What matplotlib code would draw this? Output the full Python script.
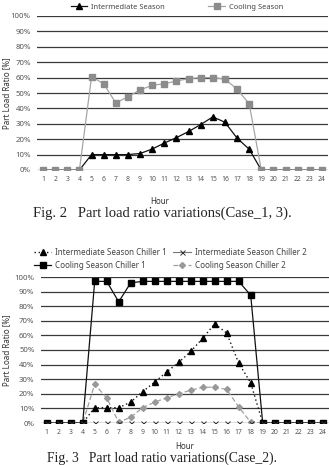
import matplotlib
matplotlib.use("Agg")
import matplotlib.pyplot as plt
import numpy as np

hours = list(range(1, 25))
yticks = [0, 10, 20, 30, 40, 50, 60, 70, 80, 90, 100]
ytick_labels = [f"{v}%" for v in yticks]

# Fig. 2 data
f2_intermediate = [0, 0, 0, 0, 10, 10, 10, 10, 10.7, 13.6, 17.5, 21, 25, 29.5, 34.5, 31, 20.7, 13.5,
                   0, 0, 0, 0, 0, 0]
f2_cooling = [0, 0, 0, 0, 60.6, 56, 43.5, 47.6, 52, 55, 56, 57.8, 59.3, 60, 60, 59, 52.5, 43,
              0, 0, 0, 0, 0, 0]

# Fig. 3 data
f3_int_ch1 = [0, 0, 0, 0, 10.5, 10.5, 10.5, 14.3, 21.5, 28, 35, 41.5, 49, 58, 68, 61.5, 41, 27.5,
              0, 0, 0, 0, 0, 0]
f3_int_ch2 = [0] * 24
f3_cool_ch1 = [0, 0, 0, 0, 97, 97, 83, 96, 97, 97, 97, 97, 97, 97, 97, 97, 97, 87.5,
               0, 0, 0, 0, 0, 0]
f3_cool_ch2 = [0, 0, 0, 0, 26.5, 17.2, 0.5, 4, 10.5, 14.3, 17.3, 20, 22.5, 24.5, 24.5, 23, 11, 0.5,
               0, 0, 0, 0, 0, 0]

W, H = 329, 465
fig = plt.figure(figsize=(W / 100, H / 100), dpi=100)
fig.patch.set_facecolor("white")

TICK_FONT = "Noto Sans"
TICK_COLOR = "#555555"
GRID_COLOR = "#3a3a3a"


def px_axes(left, top, right, bottom):
    return fig.add_axes([left / W, 1 - bottom / H, (right - left) / W, (bottom - top) / H])


def style_axes(ax):
    ax.set_xlim(0.5, 24.5)
    ax.set_ylim(0, 100)
    ax.set_yticks(yticks)
    ax.set_yticklabels(ytick_labels, fontsize=5.6, color=TICK_COLOR, family=TICK_FONT)
    ax.set_xticks(hours)
    ax.set_xticklabels([str(h) for h in hours], fontsize=4.9, color=TICK_COLOR, family=TICK_FONT)
    for s in ax.spines.values():
        s.set_visible(False)
    ax.yaxis.grid(True, color=GRID_COLOR, linewidth=0.9)
    ax.set_axisbelow(True)
    ax.tick_params(axis="y", length=0, pad=4.5)
    ax.tick_params(axis="x", length=0, pad=4)
    ax.set_xlabel("Hour", fontsize=5.8, fontweight="bold", color="#333333", family=TICK_FONT)
    ax.set_ylabel("Part Load Ratio [%]", fontsize=5.8, fontweight="bold", color="#333333",
                  family=TICK_FONT)


# ---------- Fig. 2 ----------
ax1 = px_axes(37, 16, 328, 170)
style_axes(ax1)
ax1.plot(hours, f2_cooling, color="#a6a6a6", linewidth=0.9, marker="s", markersize=4.6,
         markerfacecolor="#8c8c8c", markeredgecolor="#8c8c8c", label="Cooling Season", zorder=3)
ax1.plot(hours, f2_intermediate, color="#111111", linewidth=0.9, marker="^", markersize=4.2,
         markerfacecolor="black", markeredgecolor="black", label="Intermediate Season", zorder=2)
ax1.xaxis.set_label_coords((160 - 37) / (328 - 37), -(197 - 170) / (170 - 16))
ax1.yaxis.set_label_coords(-(37 - 11) / (328 - 37), 0.5)
h1, l1 = ax1.get_legend_handles_labels()
leg1 = ax1.legend([h1[1], h1[0]], [l1[1], l1[0]], loc="center", ncol=2,
                  bbox_to_anchor=((177 - 37) / (328 - 37), 1 + (16 - 7) / (170 - 16)),
                  frameon=False, columnspacing=5.8, handlelength=2.2,
                  handletextpad=0.5, prop={"family": TICK_FONT, "size": 5.4})
for t in leg1.get_texts():
    t.set_color("#444444")

fig.text(162 / W, 1 - 213 / H, "Fig. 2   Part load ratio variations(Case_1, 3).",
         ha="center", va="center", fontsize=10.5, family="Liberation Serif", color="#222222")

# ---------- Fig. 3 ----------
T2, B2 = 277, 423
ax2 = px_axes(40.7, T2, 328.7, B2)
style_axes(ax2)
l_i1, = ax2.plot(hours, f3_int_ch1, color="#111111", linewidth=1.0, linestyle=(0, (1, 2)),
                 marker="^", markersize=4.2, markerfacecolor="black", markeredgecolor="black",
                 label="Intermediate Season Chiller 1", zorder=3)
l_c2, = ax2.plot(hours, f3_cool_ch2, color="#a0a0a0", linewidth=0.9, linestyle=(0, (4, 2)),
                 marker="D", markersize=3.0, markerfacecolor="#999999", markeredgecolor="#999999",
                 label="Cooling Season Chiller 2", zorder=3)
l_c1, = ax2.plot(hours, f3_cool_ch1, color="#111111", linewidth=0.9, marker="s", markersize=3.8,
                 markerfacecolor="black", markeredgecolor="black",
                 label="Cooling Season Chiller 1", zorder=4)
l_i2, = ax2.plot(hours, f3_int_ch2, color="#777777", linewidth=0.8, marker="x", markersize=3.6,
                 markeredgecolor="#333333", markeredgewidth=0.7,
                 label="Intermediate Season Chiller 2", zorder=5)
ax2.xaxis.set_label_coords((185 - 40.7) / (328.7 - 40.7), -(442 - B2) / (B2 - T2))
ax2.yaxis.set_label_coords(-(40.7 - 11) / (328.7 - 40.7), 0.5)
order = [l_i1, l_c1, l_i2, l_c2]
leg2 = ax2.legend(order, [h.get_label() for h in order],
                  loc="center", ncol=2,
                  bbox_to_anchor=((170 - 40.7) / (328.7 - 40.7), 1 + (T2 - 259) / (B2 - T2)),
                  frameon=False, columnspacing=0.7, handlelength=2.2, handletextpad=0.5,
                  labelspacing=0.5, prop={"family": TICK_FONT, "size": 5.8})
for t in leg2.get_texts():
    t.set_color("#444444")

fig.text(162 / W, 1 - 464.8 / H, "Fig. 3   Part load ratio variations(Case_2).",
         ha="center", va="bottom", fontsize=9.8, family="Liberation Serif", color="#222222")

fig.savefig("out.png", dpi=100)
